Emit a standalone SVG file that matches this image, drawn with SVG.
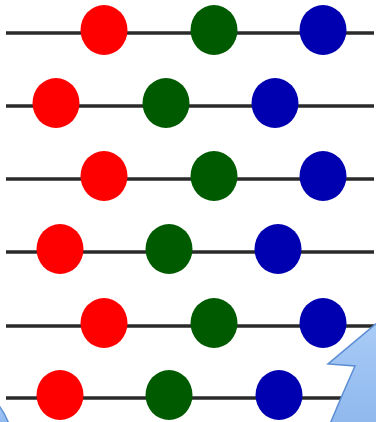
<svg xmlns="http://www.w3.org/2000/svg" width="376" height="422" viewBox="0 0 376 422">
  <defs>
    <style>
      .wire { stroke: #2a2a2a; stroke-width: 3.5; stroke-linecap: butt; }
      .r { fill: #ff0000; }
      .g { fill: #005a00; }
      .b { fill: #0000b0; }
      .arrow { fill: url(#arrowFill); stroke: #5b8dd4; stroke-width: 1.5; stroke-linejoin: miter; }
    </style>
    <linearGradient id="arrowFill" x1="0" y1="0" x2="0" y2="1">
      <stop offset="0" stop-color="#a9cbf6"/>
      <stop offset="1" stop-color="#8fb8ee"/>
    </linearGradient>
    <ellipse id="dot" cx="0" cy="0" rx="23.5" ry="25"/>
  </defs>

  <rect width="376" height="422" fill="#ffffff"/>

  <!-- horizontal wires -->
  <g id="wires">
    <line class="wire" x1="6" y1="33" x2="374" y2="33"/>
    <line class="wire" x1="6" y1="106" x2="374" y2="106"/>
    <line class="wire" x1="6" y1="179" x2="374" y2="179"/>
    <line class="wire" x1="6" y1="252" x2="374" y2="252"/>
    <line class="wire" x1="6" y1="326" x2="374" y2="326"/>
    <line class="wire" x1="6" y1="398" x2="374" y2="398"/>
  </g>

  <!-- beads, three per wire -->
  <g id="row1">
    <use href="#dot" class="r" x="104" y="30"/>
    <use href="#dot" class="g" x="214" y="30"/>
    <use href="#dot" class="b" x="323" y="30"/>
  </g>
  <g id="row2">
    <use href="#dot" class="r" x="56" y="103"/>
    <use href="#dot" class="g" x="166" y="103"/>
    <use href="#dot" class="b" x="275" y="103"/>
  </g>
  <g id="row3">
    <use href="#dot" class="r" x="104" y="176"/>
    <use href="#dot" class="g" x="214" y="176"/>
    <use href="#dot" class="b" x="323" y="176"/>
  </g>
  <g id="row4">
    <use href="#dot" class="r" x="60" y="249"/>
    <use href="#dot" class="g" x="169" y="249"/>
    <use href="#dot" class="b" x="278" y="249"/>
  </g>
  <g id="row5">
    <use href="#dot" class="r" x="104" y="323"/>
    <use href="#dot" class="g" x="214" y="323"/>
    <use href="#dot" class="b" x="323" y="323"/>
  </g>
  <g id="row6">
    <use href="#dot" class="r" x="60" y="395"/>
    <use href="#dot" class="g" x="169" y="395"/>
    <use href="#dot" class="b" x="279" y="395"/>
  </g>

  <!-- curved arrow entering from the lower right -->
  <g id="arrow-right">
    <path class="arrow" d="M 378 322 L 328 364 L 355 366 Q 342 395 330 424 L 380 424 Z"/>
  </g>

  <!-- curved band at the lower left -->
  <g id="arrow-left">
    <path class="arrow" d="M -4 402 Q 4 411 9 424 L -4 424 Z"/>
  </g>
</svg>
